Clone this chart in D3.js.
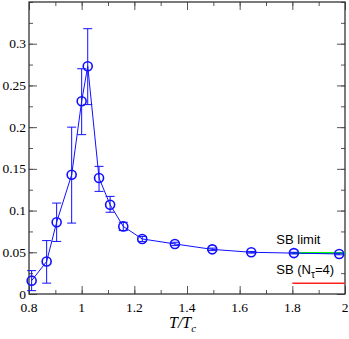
<!DOCTYPE html>
<html>
<head>
<meta charset="utf-8">
<script src="https://cdn.jsdelivr.net/npm/d3@7"></script>
<style>
  body { margin: 0; background: #fff; }
  svg { display: block; }
</style>
</head>
<body>
<div id="chart"></div>
<script>
// T/Tc, value, lower and upper end of the error bar
var temps = [0.81, 0.867, 0.905, 0.962, 1.0, 1.023, 1.066, 1.108, 1.158, 1.23, 1.354, 1.496, 1.644, 1.806, 1.978];
var values = [0.016, 0.039, 0.086, 0.143, 0.231, 0.273, 0.139, 0.107, 0.081, 0.066, 0.060, 0.0535, 0.050, 0.049, 0.048];
var errLow = [0.004, 0.013, 0.063, 0.085, 0.191, 0.227, 0.123, 0.098, 0.076, 0.063, 0.058, 0.052, 0.049, 0.048, 0.047];
var errHigh = [0.028, 0.064, 0.109, 0.200, 0.270, 0.318, 0.153, 0.117, 0.086, 0.069, 0.062, 0.055, 0.051, 0.050, 0.049];

var xTicks = [0.8, 1, 1.2, 1.4, 1.6, 1.8, 2];
var yTicks = [0, 0.05, 0.1, 0.15, 0.2, 0.25, 0.3];

var sbLimit = { from: 1.8, to: 2, value: 0.049 };
var sbNt4 = { from: 1.8, to: 2, value: 0.0128 };

var width = 349, height = 339;
var margin = { top: 2, right: 4, bottom: 45, left: 29 };

var svg = d3.select("#chart").append("svg")
  .attr("width", width)
  .attr("height", height);

var x = d3.scaleLinear().domain([0.8, 2]).range([margin.left, width - margin.right]);
var y = d3.scaleLinear().domain([0, 0.35]).range([height - margin.bottom, margin.top]);

var serif = "'Liberation Serif', 'Times New Roman', 'DejaVu Serif', serif";
var sans = "'Liberation Sans', Arial, sans-serif";

// ticks on all four sides, pointing inward
var xMinor = d3.range(0.8, 2.001, 0.1);
var yMinor = d3.range(0, 0.3501, 0.025);

function tickLines(g) {
  g.select(".domain").remove();
  g.selectAll("line").attr("stroke", "#555").attr("stroke-width", 1);
  g.selectAll("text").remove();
}

function ticks(axis, pos, values, size) {
  svg.append("g")
    .attr("transform", pos)
    .call(axis.tickValues(values).tickSize(size))
    .call(tickLines);
}

ticks(d3.axisTop(x), "translate(0," + y(0) + ")", xMinor, 4);
ticks(d3.axisTop(x), "translate(0," + y(0) + ")", xTicks, 8);
ticks(d3.axisBottom(x), "translate(0," + y(0.35) + ")", xMinor, 4);
ticks(d3.axisBottom(x), "translate(0," + y(0.35) + ")", xTicks, 8);
ticks(d3.axisRight(y), "translate(" + x(0.8) + ",0)", yMinor, 4);
ticks(d3.axisRight(y), "translate(" + x(0.8) + ",0)", yTicks, 8);
ticks(d3.axisLeft(y), "translate(" + x(2) + ",0)", yMinor, 4);
ticks(d3.axisLeft(y), "translate(" + x(2) + ",0)", yTicks, 8);

// tick labels
svg.append("g").selectAll("text")
  .data(xTicks)
  .enter().append("text")
  .attr("x", function(d) { return x(d); })
  .attr("y", y(0) + 18)
  .attr("text-anchor", "middle")
  .style("font-family", serif)
  .style("font-size", "13.5px")
  .text(function(d) { return d; });

svg.append("g").selectAll("text")
  .data(yTicks)
  .enter().append("text")
  .attr("x", x(0.8) - 3)
  .attr("y", function(d) { return y(d) + 4.5; })
  .attr("text-anchor", "end")
  .style("font-family", serif)
  .style("font-size", "13.5px")
  .text(function(d) { return d; });

// frame
svg.append("rect")
  .attr("x", x(0.8)).attr("y", y(0.35))
  .attr("width", x(2) - x(0.8)).attr("height", y(0) - y(0.35))
  .attr("fill", "none").attr("stroke", "#333").attr("stroke-width", 1.3);

// axis title
var title = svg.append("text")
  .attr("x", x(1.4) - 18)
  .attr("y", height - 11)
  .style("font-family", serif)
  .style("font-style", "italic")
  .style("font-size", "16px");
title.append("tspan").text("T/T");
title.append("tspan").attr("dy", 4).style("font-size", "11px").text("c");

// reference lines
svg.append("line")
  .attr("x1", x(sbLimit.from)).attr("x2", x(sbLimit.to))
  .attr("y1", y(sbLimit.value)).attr("y2", y(sbLimit.value))
  .attr("stroke", "#00ff00").attr("stroke-width", 2);
svg.append("line")
  .attr("x1", x(sbNt4.from)).attr("x2", x(sbNt4.to))
  .attr("y1", y(sbNt4.value)).attr("y2", y(sbNt4.value))
  .attr("stroke", "#ff2020").attr("stroke-width", 1.5);

svg.append("text")
  .attr("x", x(1.8) - 16)
  .attr("y", y(sbLimit.value) - 9)
  .style("font-family", sans)
  .style("font-size", "13px")
  .text("SB limit");

var sbText = svg.append("text")
  .attr("x", x(1.8) - 16)
  .attr("y", y(sbLimit.value) + 21)
  .style("font-family", sans)
  .style("font-size", "13px");
sbText.append("tspan").text("SB (N");
sbText.append("tspan").attr("dy", 4).style("font-size", "10px").text("τ");
sbText.append("tspan").attr("dy", -4).text("=4)");

// data
var pts = temps.map(function(t, i) {
  return { t: t, v: values[i], lo: errLow[i], hi: errHigh[i] };
});

var blue = "#1010ff";

var err = svg.append("g").attr("stroke", blue).attr("stroke-width", 1);
pts.forEach(function(p) {
  err.append("line")
    .attr("x1", x(p.t)).attr("x2", x(p.t))
    .attr("y1", y(p.lo)).attr("y2", y(p.hi));
  err.append("line")
    .attr("x1", x(p.t) - 4.5).attr("x2", x(p.t) + 4.5)
    .attr("y1", y(p.lo)).attr("y2", y(p.lo));
  err.append("line")
    .attr("x1", x(p.t) - 4.5).attr("x2", x(p.t) + 4.5)
    .attr("y1", y(p.hi)).attr("y2", y(p.hi));
});

svg.append("path")
  .datum(pts)
  .attr("fill", "none")
  .attr("stroke", blue)
  .attr("stroke-width", 1)
  .attr("d", d3.line().x(function(d) { return x(d.t); }).y(function(d) { return y(d.v); }));

svg.append("g").selectAll("circle")
  .data(pts)
  .enter().append("circle")
  .attr("cx", function(d) { return x(d.t); })
  .attr("cy", function(d) { return y(d.v); })
  .attr("r", 4.5)
  .attr("fill", "none")
  .attr("stroke", blue)
  .attr("stroke-width", 1.6);
</script>
</body>
</html>
